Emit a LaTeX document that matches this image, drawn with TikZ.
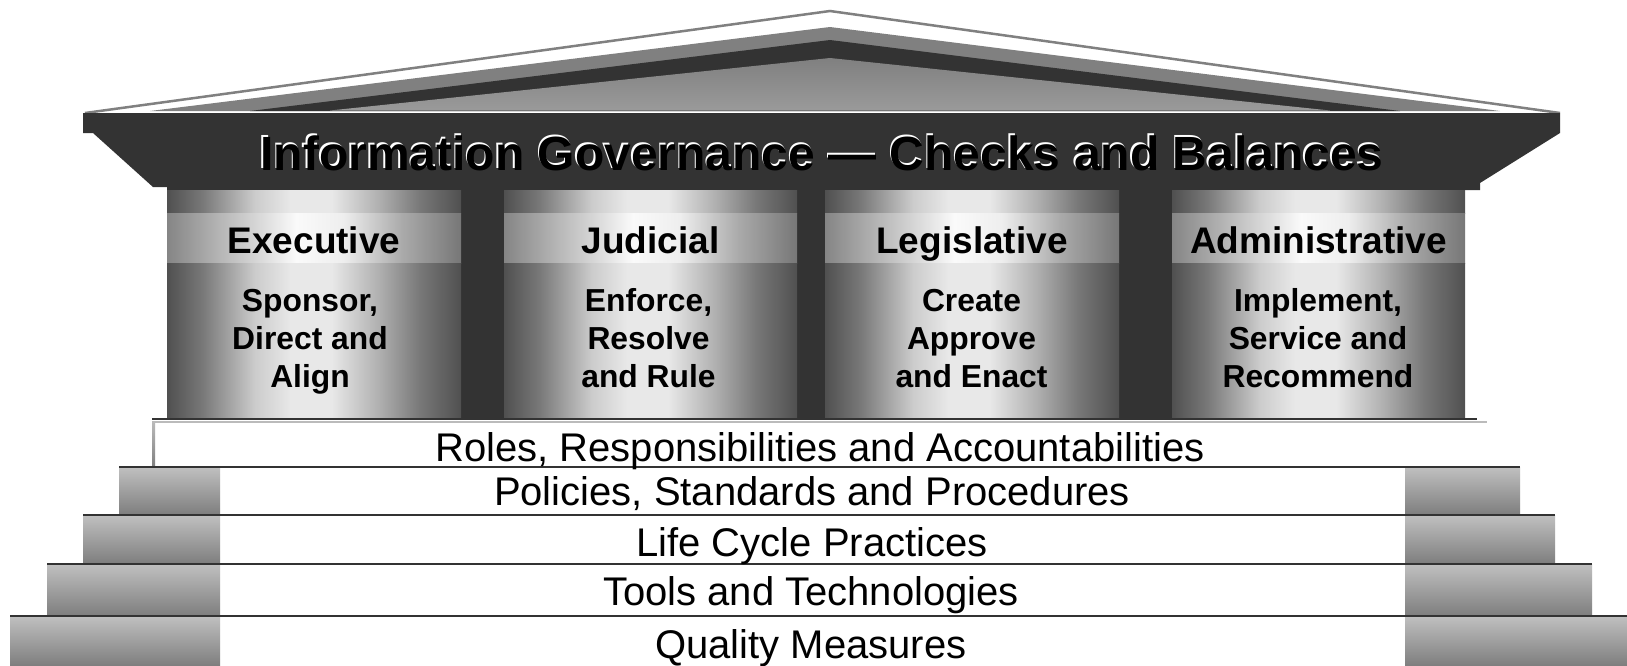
\documentclass[tikz,border=0pt]{standalone}
\usepackage{fontspec}
\setmainfont{Liberation Sans}
\definecolor{dk}{HTML}{333333}
\definecolor{rl}{HTML}{808080}
\definecolor{ri}{HTML}{9A9A9A}
\definecolor{cb0}{HTML}{505050}
\definecolor{cb1}{HTML}{787878}
\definecolor{cb2}{HTML}{CCCCCC}
\definecolor{cb3}{HTML}{E8E8E8}
\definecolor{cb4}{HTML}{B0B0B0}
\definecolor{ch0}{HTML}{858585}
\definecolor{ch1}{HTML}{BBBBBB}
\definecolor{ch2}{HTML}{FAFAFA}
\definecolor{ch3}{HTML}{EEEEEE}
\definecolor{ch4}{HTML}{AAAAAA}
\definecolor{ch5}{HTML}{777777}
\definecolor{sg1}{HTML}{C0C0C0}
\definecolor{sg2}{HTML}{7F7F7F}
\definecolor{ln}{HTML}{BBBBBB}
\pgfdeclarehorizontalshading{colbodysh}{100bp}{color(0bp)=(cb0); color(25bp)=(cb0); color(31bp)=(cb1); color(40bp)=(cb2); color(46bp)=(cb3); color(53bp)=(cb3); color(61bp)=(cb4); color(68bp)=(cb1); color(75bp)=(cb0); color(100bp)=(cb0)}
\pgfdeclarehorizontalshading{colheadsh}{100bp}{color(0bp)=(ch0); color(25bp)=(ch0); color(35bp)=(ch1); color(47bp)=(ch2); color(55bp)=(ch3); color(65bp)=(ch4); color(75bp)=(ch5); color(100bp)=(ch5)}
\begin{document}
\begin{tikzpicture}[x=1pt,y=-1pt,
  titletxt/.style={font=\fontsize{48}{58}\selectfont\bfseries, inner sep=0pt, anchor=base},
  headtxt/.style={font=\fontsize{37}{44}\selectfont\bfseries, inner sep=0pt, anchor=base},
  bodytxt/.style={font=\fontsize{31.8}{38}\selectfont\bfseries, inner sep=0pt, anchor=base, align=center},
  steptxt/.style={font=\fontsize{40}{46}\selectfont, inner sep=0pt, anchor=base},
  cbody/.style={shading=colbodysh},
  chead/.style={shading=colheadsh},
  stepblock/.style={top color=sg1, bottom color=sg2},
  stepline/.style={draw=dk, line width=2pt}
]
\useasboundingbox (0,0) rectangle (1627,665);
\fill[white] (0,0) rectangle (1627,665);
% roof
\fill[white] (85,112) -- (830,11) -- (1560,112) -- cycle;
\draw[rl, line width=2.5pt, line join=miter] (85,113) -- (830,11) -- (1560,113);
\fill[rl] (150,111) -- (830,27) -- (1500,111) -- cycle;
\fill[dk] (250,111) -- (830,40) -- (1400,111) -- cycle;
\shade[top color=rl, bottom color=ri] (330,110.5) -- (830,58) -- (1330,110.5) -- cycle;
% entablature
\fill[dk] (83,113) -- (1560,113) -- (1560,133) -- (1480,183) -- (1480,190) -- (167,190) -- (167,187) -- (153,187) -- (93,133) -- (83,133) -- cycle;
% wall
\fill[dk] (167,189) rectangle (1465,420);
% columns
\foreach \xa/\xb in {167/461, 504/797, 825/1119, 1172/1465}{
  \shade[cbody] (\xa,190) rectangle (\xb,213);
  \shade[chead] (\xa,213) rectangle (\xb,263);
  \shade[cbody] (\xa,263) rectangle (\xb,418);
}
\draw[dk, line width=2pt] (152,419) -- (1477,419);
% roles band
\fill[white] (152,421) rectangle (1487,467);
\draw[ln, line width=2pt] (152,421.5) -- (1487,421.5);
\shade[top color=ln, bottom color=sg2] (152,421) rectangle (155,467);
% steps
\shade[stepblock] (119,467) rectangle (220,514);
\shade[stepblock] (1405,467) rectangle (1520,514);
\shade[stepblock] (83,515) rectangle (220,563);
\shade[stepblock] (1405,515) rectangle (1555,563);
\shade[stepblock] (47,564) rectangle (220,615);
\shade[stepblock] (1405,564) rectangle (1592,615);
\shade[stepblock] (10,616) rectangle (220,665);
\shade[stepblock] (1405,616) rectangle (1627,665);
\draw[stepline, line width=1.5pt] (119,467) -- (1520,467);
\draw[stepline] (83,515) -- (1555,515);
\draw[stepline] (47,564) -- (1592,564);
\draw[stepline] (10,616) -- (1627,616);
% title
\node[titletxt, white] (tsh) at (820.5,168.5) {Information Governance — Checks and Balances};
\node[titletxt, black] (title) at (822,170) {Information Governance — Checks and Balances};
% column texts
\node[headtxt] (h1) at (314,253) {Executive};
\node[bodytxt] (b1) at (310,387) {Sponsor,\\Direct and\\Align};
\node[headtxt] (h2) at (650.5,253) {Judicial};
\node[bodytxt] (b2) at (648.5,387) {Enforce,\\Resolve\\and Rule};
\node[headtxt] (h3) at (972,253) {Legislative};
\node[bodytxt] (b3) at (971.5,387) {Create\\Approve\\and Enact};
\node[headtxt] (h4) at (1318.5,253) {Administrative};
\node[bodytxt] (b4) at (1318,387) {Implement,\\Service and\\Recommend};
% step texts
\node[steptxt] (s1) at (820,461) {Roles, Responsibilities and Accountabilities};
\node[steptxt] (s2) at (812,505) {Policies, Standards and Procedures};
\node[steptxt] (s3) at (812,556) {Life Cycle Practices};
\node[steptxt] (s4) at (811,605) {Tools and Technologies};
\node[steptxt] (s5) at (811,658) {Quality Measures};
\end{tikzpicture}
\end{document}
